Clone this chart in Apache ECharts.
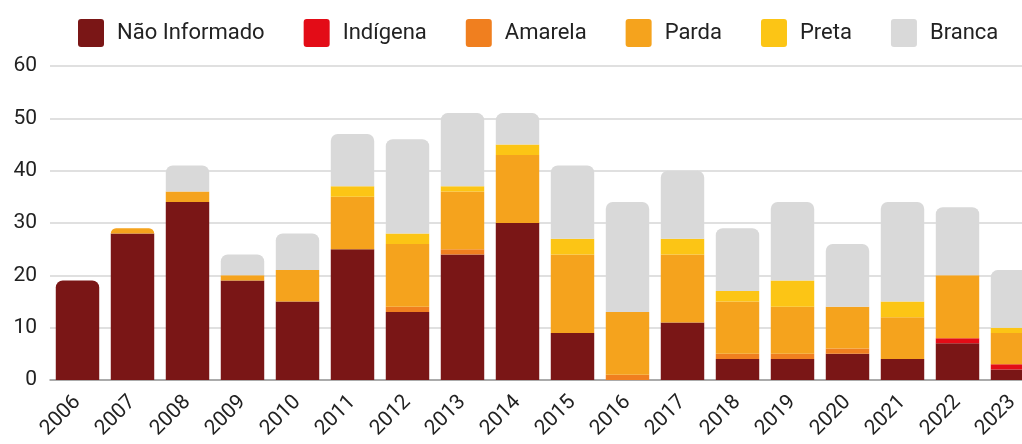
<!DOCTYPE html>
<html>
<head>
<meta charset="utf-8">
<script src="https://cdn.jsdelivr.net/npm/echarts@6/dist/echarts.min.js"></script>
<style>html,body{margin:0;padding:0;background:#fff;}#c{width:1022px;height:444px;}</style>
</head>
<body>
<div id="c"></div>
<script>
const years = ['2006','2007','2008','2009','2010','2011','2012','2013','2014','2015','2016','2017','2018','2019','2020','2021','2022','2023'];
const naoInformado = [19,28,34,19,15,25,13,24,30,9,0,11,4,4,5,4,7,2];
const indigena     = [0,0,0,0,0,0,0,0,0,0,0,0,0,0,0,0,1,1];
const amarela      = [0,0,0,0,0,0,1,1,0,0,1,0,1,1,1,0,0,0];
const parda        = [0,1,2,1,6,10,12,11,13,15,12,13,10,9,8,8,12,6];
const preta        = [0,0,0,0,0,2,2,1,2,3,0,3,2,5,0,3,0,1];
const branca       = [0,0,5,4,7,10,18,14,6,14,21,13,12,15,12,19,13,11];
const yTicks = [0,10,20,30,40,50,60];

const seriesDefs = [
  {name:'Não Informado', data:naoInformado, color:'#7a1616'},
  {name:'Indígena', data:indigena, color:'#e30c17'},
  {name:'Amarela', data:amarela, color:'#f07f1f'},
  {name:'Parda', data:parda, color:'#f5a31d'},
  {name:'Preta', data:preta, color:'#fcc515'},
  {name:'Branca', data:branca, color:'#d9d9d9'}
];
const topIdx = years.map((_, i) => {
  let t = -1;
  seriesDefs.forEach((s, k) => { if (s.data[i] > 0) t = k; });
  return t;
});
const series = seriesDefs.map((s, k) => ({
  name: s.name,
  type: 'bar',
  stack: 'total',
  barCategoryGap: '21%',
  itemStyle: {color: s.color},
  emphasis: {disabled: true},
  data: s.data.map((v, i) => ({
    value: v,
    itemStyle: topIdx[i] === k ? {borderRadius: [7,7,0,0]} : {}
  }))
}));

const chart = echarts.init(document.getElementById('c'), null, {renderer:'canvas'});
chart.setOption({
  animation: false,
  textStyle: {fontFamily: 'Roboto'},
  legend: {
    left: 73, top: 14,
    itemWidth: 26, itemHeight: 28, itemGap: 39,
    icon: 'path://M3,0 H23 Q26,0 26,3 V25 Q26,28 23,28 H3 Q0,28 0,25 V3 Q0,0 3,0 Z',
    textStyle: {fontSize: 22, color: '#222', fontFamily: 'Roboto', padding: [0,0,0,8]},
    data: seriesDefs.map(s => s.name)
  },
  grid: {left: 50, width: 990, top: 66, bottom: 64, containLabel: false, outerBoundsMode: 'none'},
  xAxis: {
    type: 'category',
    data: years,
    axisTick: {show: false},
    axisLine: {lineStyle: {color: '#999', width: 1.5}},
    axisLabel: {rotate: 45, fontSize: 21, color: '#222', margin: 19, interval: 0}
  },
  yAxis: {
    type: 'value',
    min: 0, max: 60, interval: 10,
    axisLabel: {fontSize: 21, color: '#222', margin: 13},
    splitLine: {lineStyle: {color: '#d6d6d6', width: 1.5}},
    axisLine: {show: false},
    axisTick: {show: false}
  },
  series: series
});
</script>
</body>
</html>
